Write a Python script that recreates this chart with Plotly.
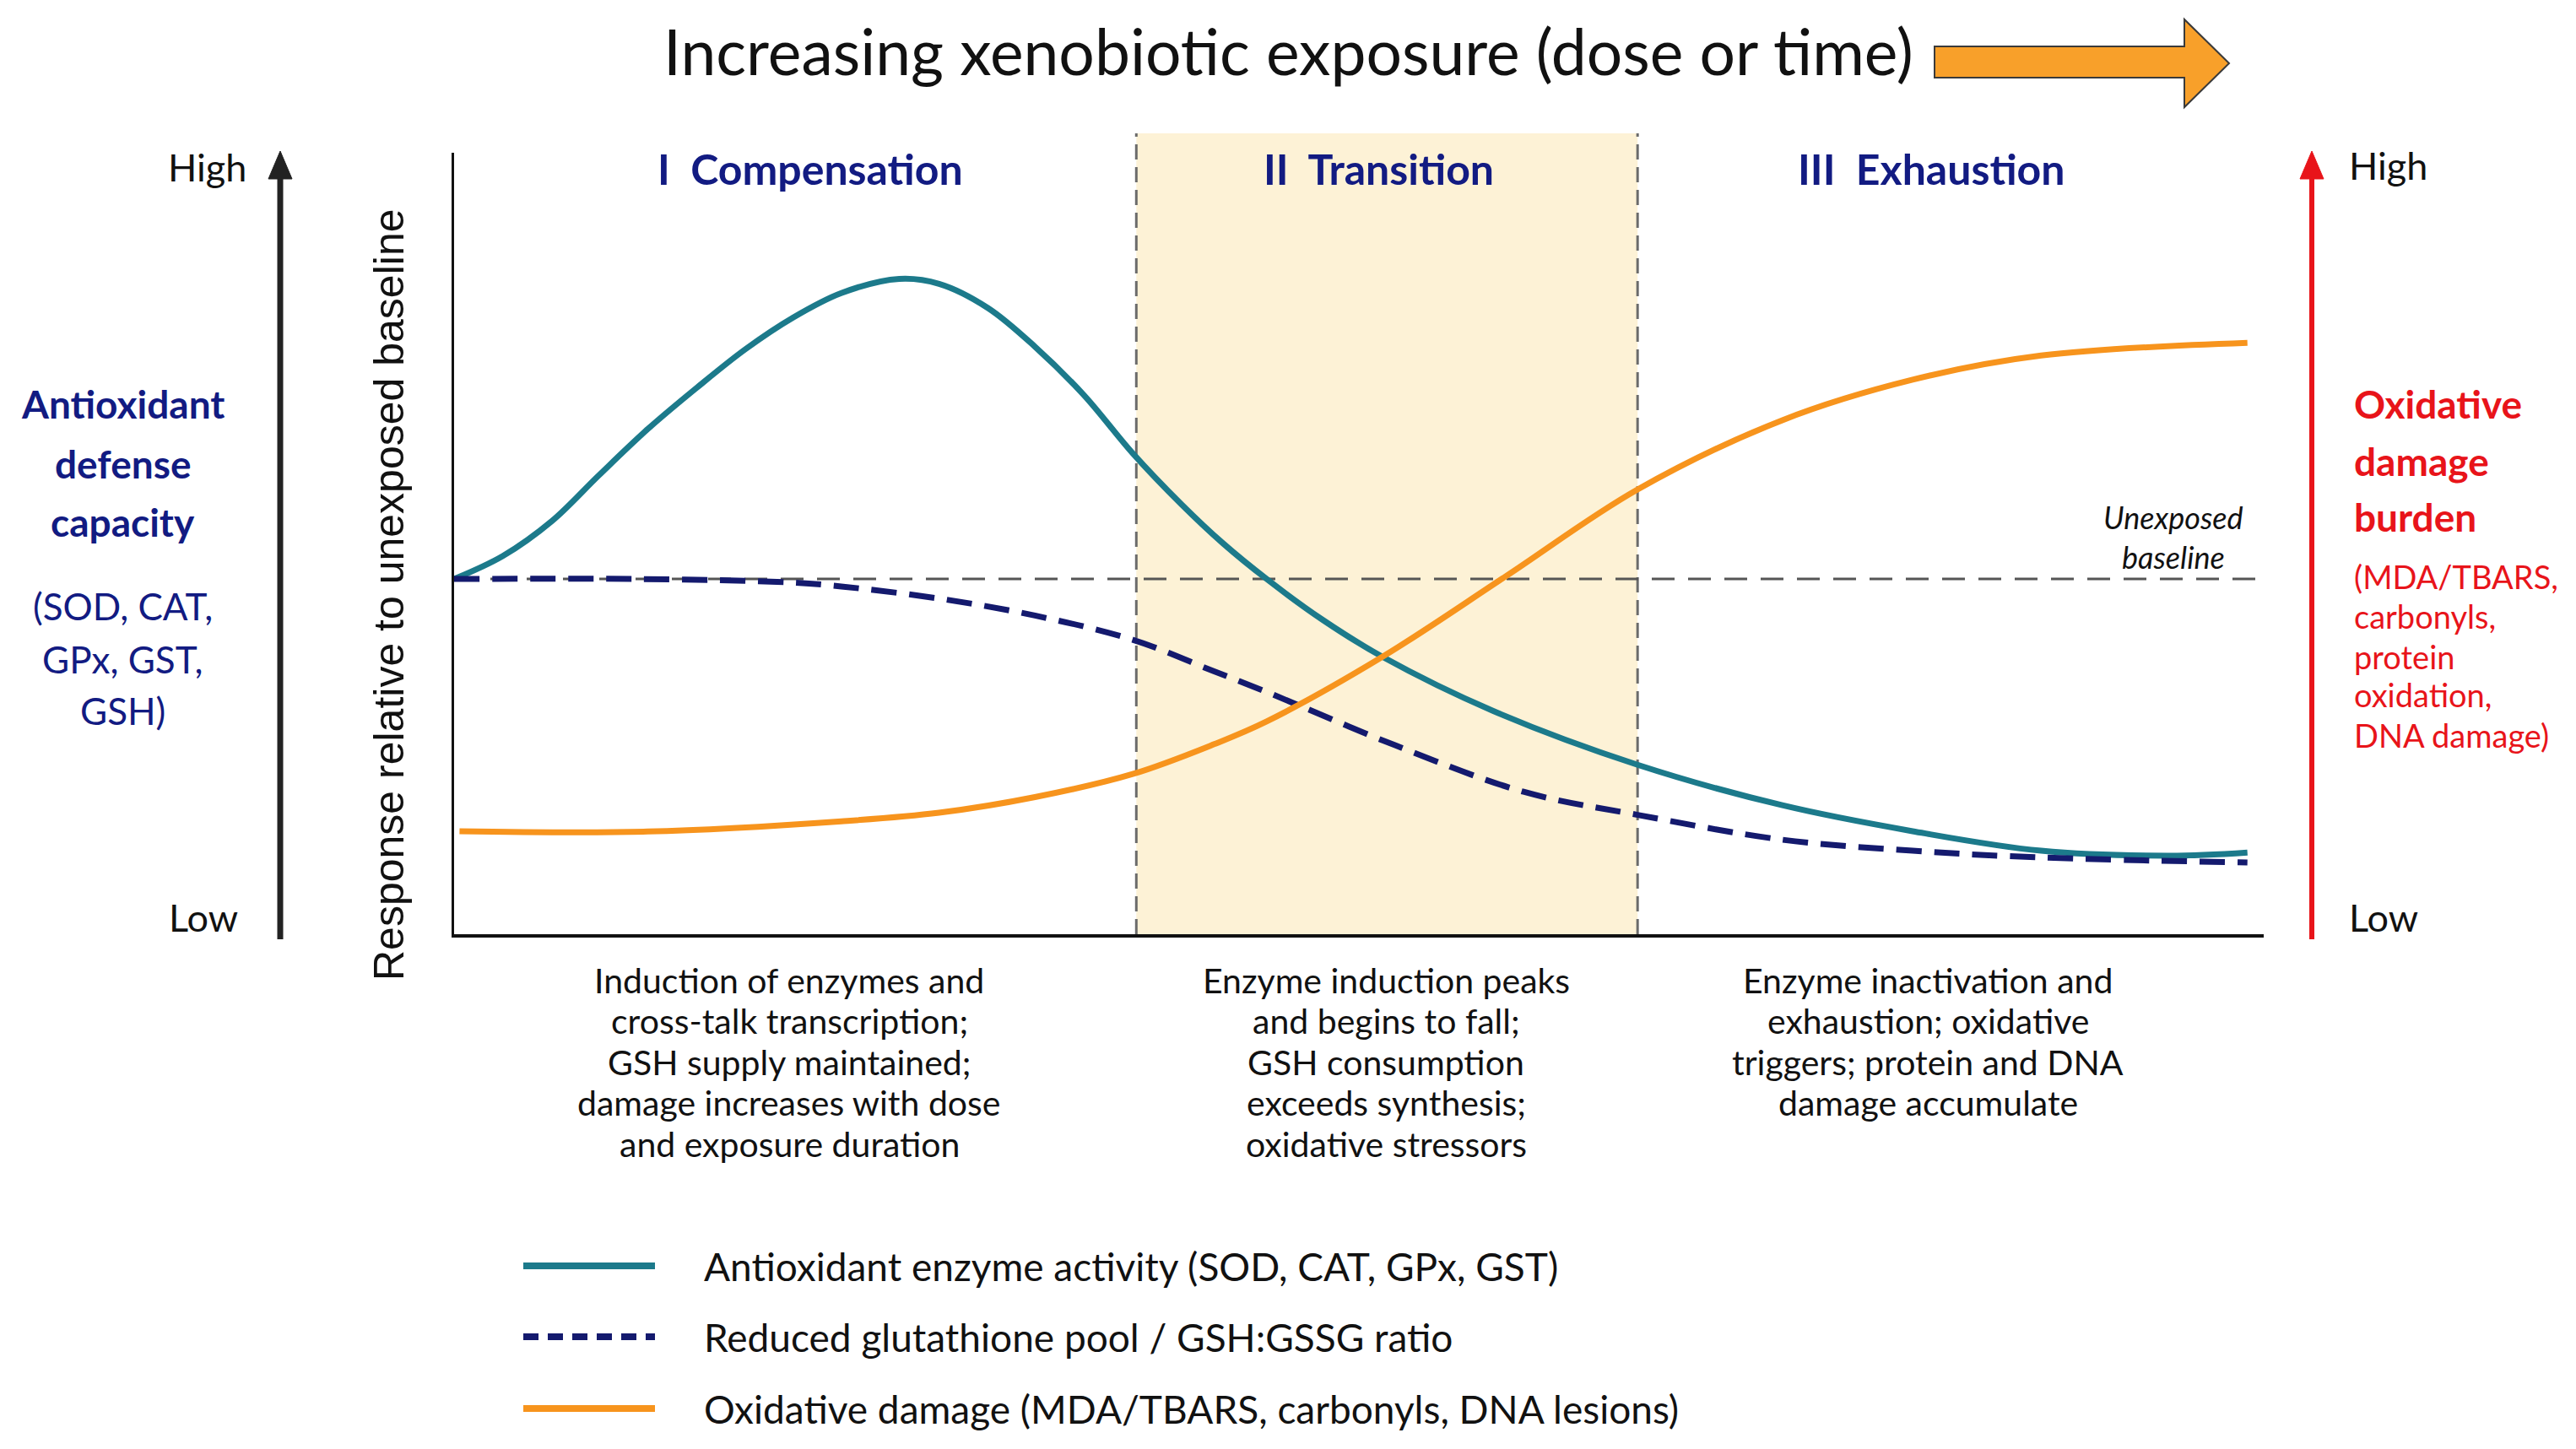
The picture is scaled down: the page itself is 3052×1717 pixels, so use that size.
import plotly.graph_objects as go

W, H = 3052, 1717
FONT = "Lato"

# ---- data (exposure on a 0-100 scale, response relative to baseline = 1) ----
enzyme_x = [0, 2.7, 5.4, 8.0, 10.7, 13.4, 16.1, 18.7, 21.4, 24.6, 26.8, 29.5, 32.1, 34.8, 37.5,
            40.2, 42.5, 44.9, 48.0, 51.3, 57.4, 65.4, 73.4, 80.6, 87.7, 94.8, 99.1]
enzyme_y = [1.0, 1.065, 1.163, 1.292, 1.422, 1.538, 1.647, 1.735, 1.805, 1.845, 1.831, 1.763, 1.654, 1.518, 1.354,
            1.210, 1.100, 1.0, 0.885, 0.781, 0.629, 0.477, 0.363, 0.290, 0.235, 0.221, 0.230]

gsh_x = [0, 10.0, 18.7, 21.4, 26.8, 32.1, 37.5, 42.0, 44.9, 52.0, 59.1, 65.4, 73.4, 80.6, 87.7, 99.1]
gsh_y = [1.0, 1.0, 0.99, 0.979, 0.945, 0.897, 0.829, 0.740, 0.682, 0.532, 0.401, 0.336, 0.266, 0.235, 0.216, 0.202]

damage_x = [0.3, 10.7, 21.4, 26.8, 32.1, 37.5, 42.0, 44.9, 51.3, 58.1, 65.4, 73.4, 80.6, 87.7, 99.1]
damage_y = [0.290, 0.289, 0.318, 0.342, 0.386, 0.451, 0.535, 0.599, 0.781, 1.007, 1.252, 1.447, 1.561, 1.629, 1.665]

baseline = 1.0
phase_edges = [0, 37.7, 65.4, 100]
phase_label_x = [19.7, 51.1, 81.6]
phase_labels = ["I  Compensation", "II  Transition", "III  Exhaustion"]
phase_notes = [
    ["Induction of enzymes and", "cross-talk transcription;", "GSH supply maintained;",
     "damage increases with dose", "and exposure duration"],
    ["Enzyme induction peaks", "and begins to fall;", "GSH consumption",
     "exceeds synthesis;", "oxidative stressors"],
    ["Enzyme inactivation and", "exhaustion; oxidative", "triggers; protein and DNA",
     "damage accumulate"],
]
series_names = [
    "Antioxidant enzyme activity (SOD, CAT, GPx, GST)",
    "Reduced glutathione pool / GSH:GSSG ratio",
    "Oxidative damage (MDA/TBARS, carbonyls, DNA lesions)",
]
left_title = ["Antioxidant", "defense", "capacity"]
left_sub = ["(SOD, CAT,", "GPx, GST,", "GSH)"]
right_title = ["Oxidative", "damage", "burden"]
right_sub = ["(MDA/TBARS,", "carbonyls,", "protein", "oxidation,", "DNA damage)"]

TEAL = "#1c7a8b"
NAVY = "#141a6e"
ORANGE = "#f7941d"
RED = "#e8141a"
TXT_NAVY = "#121b82"
CREAM = "#fdf2d6"


def px(x):
    return x / W


def py(y):
    return 1 - y / H


fig = go.Figure()

fig.add_trace(go.Scatter(x=enzyme_x, y=enzyme_y, mode="lines", name=series_names[0],
                         line=dict(color=TEAL, width=7, shape="spline", smoothing=1.0)))
fig.add_trace(go.Scatter(x=gsh_x, y=gsh_y, mode="lines", name=series_names[1],
                         line=dict(color=NAVY, width=7, dash="30px,15px", shape="spline", smoothing=1.0)))
fig.add_trace(go.Scatter(x=damage_x, y=damage_y, mode="lines", name=series_names[2],
                         line=dict(color=ORANGE, width=7, shape="spline", smoothing=1.0)))

shapes = []
# transition band + dashed phase boundaries
shapes.append(dict(type="rect", xref="x", yref="paper", x0=phase_edges[1], x1=phase_edges[2],
                   y0=py(1107), y1=py(158), fillcolor=CREAM, line=dict(width=0), layer="below"))
for xe in phase_edges[1:3]:
    shapes.append(dict(type="line", xref="x", yref="paper", x0=xe, x1=xe, y0=py(1107), y1=py(158),
                       line=dict(color="#6b6b6b", width=3, dash="18px,9px"), layer="below"))
# unexposed baseline
shapes.append(dict(type="line", xref="x", yref="y", x0=0, x1=99.6, y0=baseline, y1=baseline,
                   line=dict(color="#555555", width=3, dash="27px,16px"), layer="below"))

# side arrows (defense capacity / damage burden)
for ax_x, col, w in [(332, "#222222", 7), (2739, RED, 6)]:
    shapes.append(dict(type="line", xref="paper", yref="paper", x0=px(ax_x), x1=px(ax_x),
                       y0=py(1113), y1=py(205), line=dict(color=col, width=w)))
    shapes.append(dict(type="path", xref="paper", yref="paper",
                       path=f"M{px(ax_x - 14)},{py(212)} L{px(ax_x)},{py(179)} L{px(ax_x + 14)},{py(212)} Z",
                       fillcolor=col, line=dict(color=col, width=1)))

# block arrow next to the title
arrow_pts = [(2292, 55), (2588, 55), (2588, 23), (2641, 75), (2588, 127), (2588, 92), (2292, 92)]
path = "M" + " L".join(f"{px(a)},{py(b)}" for a, b in arrow_pts) + " Z"
shapes.append(dict(type="path", xref="paper", yref="paper", path=path,
                   fillcolor="#f8a02a", line=dict(color="#3a3a3a", width=2)))

# manual legend keys
legend_y = [1500, 1584, 1669]
legend_styles = [dict(color=TEAL, width=8), dict(color=NAVY, width=8, dash="18px,11px"),
                 dict(color=ORANGE, width=8)]
for ly, st in zip(legend_y, legend_styles):
    shapes.append(dict(type="line", xref="paper", yref="paper", x0=px(620), x1=px(776),
                       y0=py(ly), y1=py(ly), line=st))

ann = []


def text(x, y, s, size, color="#111111", bold=False, xanchor="center", italic=False, angle=0,
         family=FONT):
    if bold:
        s = f"<b>{s}</b>"
    if italic:
        s = f"<i>{s}</i>"
    ann.append(dict(x=x, y=y, xref="paper", yref="paper", text=s, showarrow=False,
                    xanchor=xanchor, yanchor="middle", textangle=angle,
                    font=dict(family=family, size=size, color=color)))


text(px(1526), py(60), "Increasing xenobiotic exposure (dose or time)", 75)

for lx, lab in zip(phase_label_x, phase_labels):
    ann.append(dict(x=lx, y=py(200), xref="x", yref="paper",
                    text=f"<b>{lab}</b>", showarrow=False, xanchor="center", yanchor="middle",
                    font=dict(family=FONT, size=50, color=TXT_NAVY)))

for xc, note in zip([935, 1642, 2284], phase_notes):
    for k, line in enumerate(note):
        text(px(xc), py(1161 + 48.5 * k), line, 41)

text(px(2575), py(613), "Unexposed", 36, italic=True)
text(px(2575), py(660), "baseline", 36, italic=True)

text(px(294), py(198), "High", 45, xanchor="right")
text(px(284), py(1087), "Low", 45, xanchor="right")
text(px(2781), py(196), "High", 45, xanchor="left")
text(px(2781), py(1087), "Low", 45, xanchor="left")

for s, y in zip(left_title, [478, 549, 619]):
    text(px(145), py(y), s, 46, color=TXT_NAVY, bold=True)
for s, y in zip(left_sub, [718, 781, 842]):
    text(px(145), py(y), s, 44, color=TXT_NAVY)
for s, y in zip(right_title, [478, 547, 612]):
    text(px(2787), py(y), s, 46, color=RED, bold=True, xanchor="left")
for s, y in zip(right_sub, [683, 730, 778, 823, 871]):
    text(px(2787), py(y), s, 38, color=RED, xanchor="left")

text(px(461), py(705), "Response relative to unexposed baseline", 50, angle=-90, family="Liberation Sans")

for s, y in zip(series_names, legend_y):
    text(px(832), py(y), s, 46, xanchor="left")

fig.update_layout(
    width=W, height=H,
    margin=dict(l=0, r=0, t=0, b=0),
    paper_bgcolor="white", plot_bgcolor="rgba(0,0,0,0)",
    showlegend=False,
    shapes=shapes, annotations=ann,
    xaxis=dict(domain=[px(538), px(2682)], range=[0, 100], showgrid=False, zeroline=False,
               showticklabels=False, ticks="", showline=True, linecolor="#111111", linewidth=4),
    yaxis=dict(domain=[py(1107), py(181)], range=[0, 2.2], showgrid=False, zeroline=False,
               showticklabels=False, ticks="", showline=True, linecolor="#111111", linewidth=3),
)

# drop the default 8px page margin so the figure fills the window exactly
fig.write_html("out.html", config={"displayModeBar": False},
               post_script="document.body.style.margin='0';")
